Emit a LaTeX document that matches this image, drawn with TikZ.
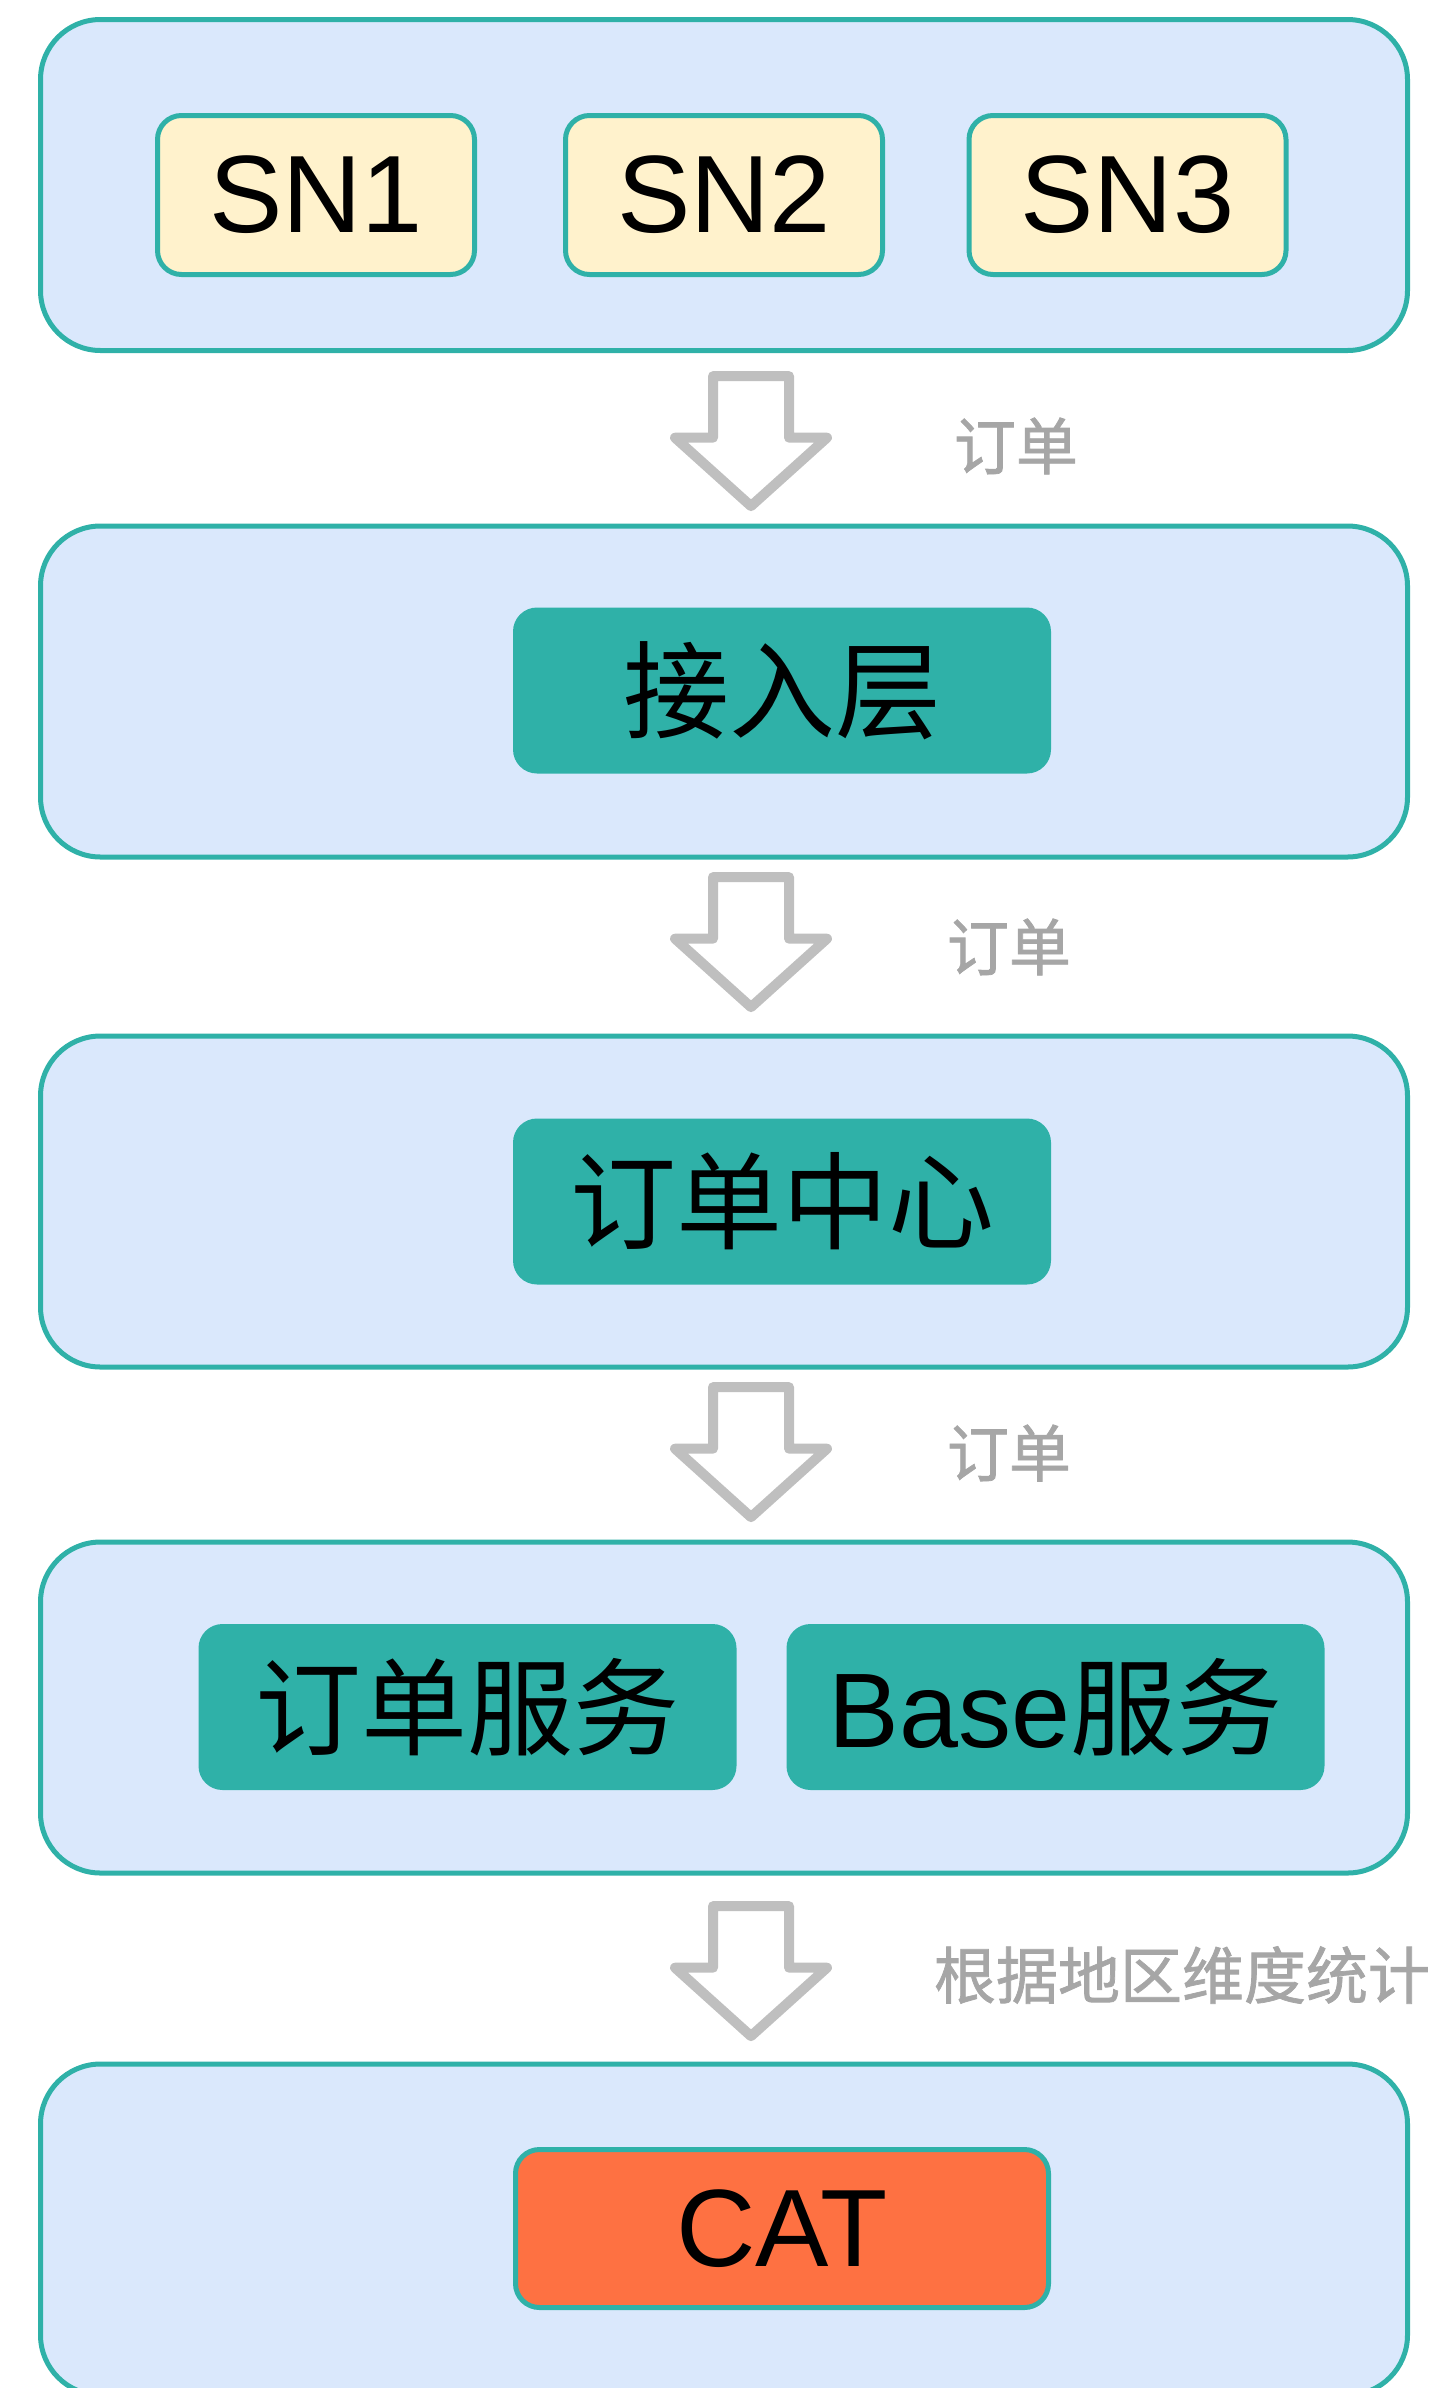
\documentclass[tikz,border=0pt]{standalone}
\usepackage{fontspec}
\setmainfont{Liberation Sans}
\newfontfamily\cjk{Noto Sans CJK SC}
\newfontfamily\cjklabel[FakeBold=1.2]{Noto Sans CJK SC}
\usepackage{tikz}
\usetikzlibrary{shapes.arrows}

\definecolor{layerfill}{HTML}{DAE8FC}
\definecolor{tealline}{HTML}{2FB1A8}
\definecolor{snfill}{HTML}{FFF2CC}
\definecolor{catfill}{HTML}{FE7142}
\definecolor{arrowgray}{HTML}{BFBFBF}
\definecolor{labelgray}{HTML}{A6A6A6}

\tikzset{
  layer/.style={draw=tealline, line width=5pt, fill=layerfill, rounded corners=60pt,
    minimum width=1367pt, minimum height=331pt},
  snbox/.style={draw=tealline, line width=5pt, fill=snfill, rounded corners=24pt,
    minimum width=317pt, minimum height=159pt, font=\fontsize{110}{120}\selectfont},
  svcbox/.style={fill=tealline, rounded corners=24pt,
    minimum width=538pt, minimum height=166pt, font=\cjk\fontsize{106}{120}\selectfont},
  catbox/.style={draw=tealline, line width=5pt, fill=catfill, rounded corners=24pt,
    minimum width=533pt, minimum height=158pt, font=\fontsize{110}{120}\selectfont},
  flowarrow/.style={single arrow, draw=arrowgray, line width=10pt, fill=white,
    line join=round, shape border rotate=270, inner sep=33pt,
    minimum height=130pt, single arrow head extend=38pt, single arrow tip angle=96},
  flowlabel/.style={text=labelgray, font=\cjklabel\fontsize{62}{70}\selectfont}
}

\begin{document}
\begin{tikzpicture}[x=1pt, y=-1pt]
  \useasboundingbox (0,0) rectangle (1439,2388);

  \node[layer] (clients)  at (724, 185)   {};
  \node[layer] (access)   at (724, 691.5) {};
  \node[layer] (center)   at (724, 1201.5) {};
  \node[layer] (services) at (724, 1707.5) {};
  \node[layer] (stats)    at (724, 2229.5) {};

  \node[snbox] (sn1) at (316, 195)   {SN1};
  \node[snbox] (sn2) at (724, 195)   {SN2};
  \node[snbox] (sn3) at (1127.5, 195) {SN3};

  \node[svcbox] (gateway) at (782, 690.5)   {接入层};
  \node[svcbox] (orders)  at (782, 1201.5)  {订单中心};
  \node[svcbox] (ordsvc)  at (467.5, 1707)  {订单服务};
  \node[svcbox] (basesvc) at (1055.5, 1707) {\fontspec{Liberation Sans}Base{\cjk 服务}};
  \node[catbox] (cat)     at (782, 2228.5)  {CAT};

  % fleches entre les couches
  \node[flowarrow] (a1) at (751, 424)  {};
  \node[flowarrow] (a2) at (751, 925)  {};
  \node[flowarrow] (a3) at (751, 1435) {};
  \node[flowarrow] (a4) at (751, 1954) {};

  \node[flowlabel] (l1) at (1016, 446)  {订单};
  \node[flowlabel] (l2) at (1009, 947)  {订单};
  \node[flowlabel] (l3) at (1009, 1453) {订单};
  \node[flowlabel] (l4) at (1182, 1975) {根据地区维度统计};
\end{tikzpicture}
\end{document}
